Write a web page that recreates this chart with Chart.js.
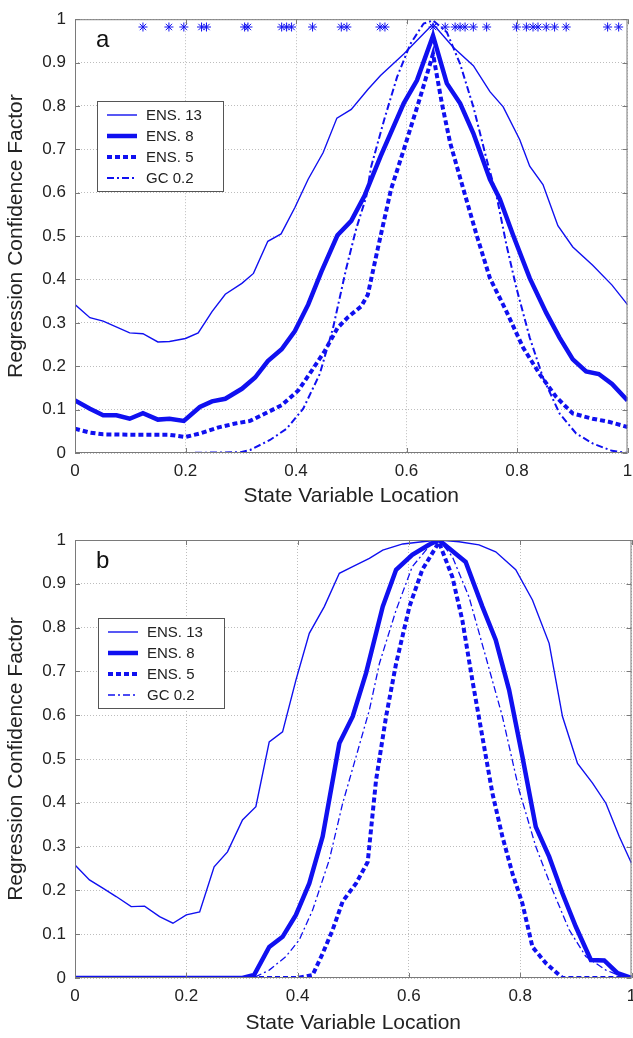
<!DOCTYPE html>
<html>
<head>
<meta charset="utf-8">
<script src="https://cdn.jsdelivr.net/npm/chart.js@4"></script>
<style>
  body { margin: 0; background: #fff; }
  canvas { position: absolute; left: 0; }
  #chartA { top: 0; }
  #chartB { top: 520px; }
</style>
</head>
<body>
<canvas id="chartA" width="633" height="520"></canvas>
<canvas id="chartB" width="633" height="518"></canvas>
<script>
const seriesLabels = ["ENS. 13", "ENS. 8", "ENS. 5", "GC 0.2"];
const xTickLabels = ["0", "0.2", "0.4", "0.6", "0.8", "1"];
const yTickLabels = ["0", "0.1", "0.2", "0.3", "0.4", "0.5", "0.6", "0.7", "0.8", "0.9", "1"];

// panel a
const a13X = [0, 0.027, 0.051, 0.099, 0.123, 0.15, 0.171, 0.2, 0.223, 0.248, 0.272, 0.302, 0.323, 0.349, 0.373, 0.398, 0.422, 0.449, 0.474, 0.5, 0.53, 0.553, 0.595, 0.648, 0.685, 0.721, 0.751, 0.775, 0.805, 0.823, 0.847, 0.874, 0.901, 0.937, 0.972, 1];
const a13Y = [0.342, 0.312, 0.304, 0.277, 0.275, 0.256, 0.257, 0.264, 0.277, 0.326, 0.366, 0.391, 0.414, 0.488, 0.505, 0.566, 0.631, 0.692, 0.772, 0.792, 0.838, 0.87, 0.92, 0.989, 0.935, 0.893, 0.833, 0.798, 0.722, 0.661, 0.619, 0.524, 0.475, 0.433, 0.387, 0.342];
const a8X = [0, 0.027, 0.051, 0.075, 0.099, 0.123, 0.15, 0.171, 0.197, 0.226, 0.248, 0.272, 0.302, 0.326, 0.349, 0.374, 0.398, 0.422, 0.446, 0.475, 0.5, 0.524, 0.553, 0.595, 0.619, 0.648, 0.673, 0.697, 0.721, 0.751, 0.769, 0.793, 0.823, 0.853, 0.877, 0.901, 0.925, 0.948, 0.972, 1];
const a8Y = [0.121, 0.102, 0.087, 0.087, 0.079, 0.092, 0.077, 0.079, 0.074, 0.106, 0.119, 0.125, 0.148, 0.174, 0.212, 0.239, 0.281, 0.342, 0.418, 0.502, 0.535, 0.593, 0.684, 0.806, 0.859, 0.962, 0.852, 0.806, 0.737, 0.631, 0.585, 0.502, 0.403, 0.323, 0.266, 0.216, 0.188, 0.182, 0.159, 0.121];
const a5X = [0, 0.027, 0.051, 0.111, 0.171, 0.2, 0.229, 0.26, 0.29, 0.317, 0.344, 0.374, 0.404, 0.428, 0.452, 0.475, 0.494, 0.518, 0.53, 0.548, 0.572, 0.595, 0.625, 0.648, 0.664, 0.679, 0.703, 0.727, 0.751, 0.781, 0.811, 0.841, 0.871, 0.901, 0.937, 0.966, 1];
const a5Y = [0.056, 0.047, 0.043, 0.042, 0.042, 0.037, 0.046, 0.059, 0.068, 0.074, 0.091, 0.11, 0.144, 0.189, 0.235, 0.288, 0.313, 0.338, 0.365, 0.471, 0.608, 0.699, 0.821, 0.92, 0.806, 0.715, 0.608, 0.502, 0.403, 0.326, 0.243, 0.182, 0.129, 0.091, 0.079, 0.072, 0.06];
const aGcX = [0, 0.1, 0.2, 0.3, 0.317, 0.353, 0.383, 0.413, 0.443, 0.467, 0.491, 0.509, 0.527, 0.536, 0.56, 0.583, 0.607, 0.631, 0.648, 0.673, 0.697, 0.721, 0.745, 0.763, 0.781, 0.799, 0.823, 0.847, 0.877, 0.907, 0.937, 0.972, 1];
const aGcY = [0, 0, 0, 0.002, 0.007, 0.03, 0.056, 0.102, 0.182, 0.288, 0.426, 0.517, 0.59, 0.66, 0.77, 0.867, 0.943, 0.99, 0.997, 0.97, 0.897, 0.798, 0.677, 0.593, 0.479, 0.38, 0.266, 0.174, 0.091, 0.045, 0.022, 0.005, 0];
const starX = [0.123, 0.17, 0.197, 0.229, 0.238, 0.307, 0.313, 0.374, 0.383, 0.392, 0.43, 0.482, 0.492, 0.552, 0.561, 0.648, 0.67, 0.688, 0.697, 0.706, 0.721, 0.745, 0.799, 0.817, 0.829, 0.838, 0.853, 0.868, 0.889, 0.964, 0.984];
const starY = 0.982;

// panel b
const b13X = [0, 0.026, 0.05, 0.074, 0.101, 0.125, 0.152, 0.176, 0.2, 0.224, 0.25, 0.274, 0.301, 0.325, 0.349, 0.373, 0.397, 0.421, 0.448, 0.475, 0.499, 0.529, 0.553, 0.589, 0.624, 0.654, 0.69, 0.726, 0.756, 0.792, 0.822, 0.852, 0.876, 0.903, 0.93, 0.954, 0.978, 1];
const b13Y = [0.258, 0.224, 0.205, 0.186, 0.163, 0.164, 0.14, 0.125, 0.144, 0.151, 0.254, 0.288, 0.361, 0.391, 0.539, 0.562, 0.68, 0.787, 0.848, 0.924, 0.939, 0.958, 0.977, 0.991, 0.996, 1, 0.996, 0.989, 0.973, 0.932, 0.863, 0.764, 0.597, 0.49, 0.445, 0.399, 0.323, 0.262];
const b8X = [0, 0.1, 0.2, 0.301, 0.322, 0.349, 0.373, 0.397, 0.421, 0.445, 0.475, 0.499, 0.523, 0.553, 0.577, 0.606, 0.636, 0.654, 0.672, 0.702, 0.732, 0.756, 0.78, 0.804, 0.828, 0.852, 0.876, 0.9, 0.927, 0.951, 0.975, 1];
const b8Y = [0, 0, 0, 0, 0.007, 0.071, 0.094, 0.144, 0.216, 0.323, 0.536, 0.597, 0.696, 0.848, 0.932, 0.966, 0.989, 1, 0.981, 0.95, 0.848, 0.772, 0.658, 0.505, 0.345, 0.277, 0.193, 0.117, 0.041, 0.04, 0.011, 0];
const b5X = [0, 0.1, 0.2, 0.3, 0.4, 0.427, 0.445, 0.463, 0.481, 0.505, 0.526, 0.541, 0.559, 0.577, 0.601, 0.624, 0.654, 0.678, 0.696, 0.714, 0.732, 0.75, 0.768, 0.786, 0.804, 0.822, 0.846, 0.876, 0.9, 1];
const b5Y = [0, 0, 0, 0, 0, 0.007, 0.056, 0.11, 0.175, 0.216, 0.265, 0.452, 0.597, 0.718, 0.848, 0.932, 0.995, 0.916, 0.817, 0.68, 0.551, 0.422, 0.323, 0.239, 0.17, 0.071, 0.034, 0, 0, 0];
const bGcX = [0, 0.1, 0.2, 0.3, 0.325, 0.349, 0.379, 0.403, 0.427, 0.457, 0.481, 0.505, 0.529, 0.547, 0.577, 0.606, 0.636, 0.654, 0.678, 0.708, 0.738, 0.768, 0.798, 0.828, 0.858, 0.888, 0.918, 0.954, 0.984, 1];
const bGcY = [0, 0, 0, 0, 0.003, 0.018, 0.049, 0.087, 0.155, 0.27, 0.399, 0.505, 0.612, 0.718, 0.84, 0.939, 0.985, 1, 0.962, 0.87, 0.734, 0.597, 0.429, 0.3, 0.201, 0.11, 0.049, 0.018, 0.003, 0];

const blue = "#1010f0";
const font = "'Liberation Sans', Arial, sans-serif";

function pts(xs, ys) {
  return xs.map((x, i) => ({ x: x, y: ys[i] }));
}

function lines(s13, s8, s5, sGc, gcWidth) {
  return [
    { label: seriesLabels[0], data: s13, borderColor: blue, borderWidth: 1.4 },
    { label: seriesLabels[1], data: s8, borderColor: blue, borderWidth: 4.5 },
    { label: seriesLabels[2], data: s5, borderColor: blue, borderWidth: 4, borderDash: [5, 3] },
    { label: seriesLabels[3], data: sGc, borderColor: blue, borderWidth: gcWidth, borderDash: [7, 3, 2, 3] },
  ].map(d => Object.assign(d, { pointRadius: 0, tension: 0, fill: false }));
}

// plot frame and small inward ticks
const frame = {
  id: "frame",
  afterDraw(chart) {
    const { ctx, chartArea: a, scales } = chart;
    ctx.save();
    ctx.strokeStyle = "#7a7a7a";
    ctx.lineWidth = 1;
    ctx.strokeRect(a.left + 0.5, a.top + 0.5, a.right - a.left - 1, a.bottom - a.top - 1);
    scales.y.ticks.forEach(t => {
      const y = Math.round(scales.y.getPixelForValue(t.value)) + 0.5;
      ctx.beginPath();
      ctx.moveTo(a.left, y); ctx.lineTo(a.left + 5, y);
      ctx.moveTo(a.right, y); ctx.lineTo(a.right - 5, y);
      ctx.stroke();
    });
    scales.x.ticks.forEach(t => {
      const x = Math.round(scales.x.getPixelForValue(t.value)) + 0.5;
      ctx.beginPath();
      ctx.moveTo(x, a.bottom); ctx.lineTo(x, a.bottom - 5);
      ctx.moveTo(x, a.top); ctx.lineTo(x, a.top + 5);
      ctx.stroke();
    });
    ctx.restore();
  }
};

// legend box inside plot + panel letter
const boxLegend = {
  id: "boxLegend",
  afterDraw(chart, args, opts) {
    const { ctx, chartArea: a } = chart;
    const x0 = Math.round(a.left + opts.dx), y0 = Math.round(a.top + opts.dy);
    ctx.save();
    ctx.font = "24px " + font;
    ctx.fillStyle = "#111";
    ctx.textBaseline = "alphabetic";
    ctx.fillText(opts.letter, a.left + 21, a.top + 28);

    ctx.fillStyle = "#fff";
    ctx.fillRect(x0, y0, 126, 90);
    ctx.strokeStyle = "#555";
    ctx.lineWidth = 1;
    ctx.strokeRect(x0 + 0.5, y0 + 0.5, 126, 90);
    ctx.font = "15px " + font;
    ctx.textBaseline = "middle";
    chart.data.datasets.forEach(ds => {
      const i = seriesLabels.indexOf(ds.label);
      if (i < 0) return;
      const y = y0 + 14 + i * 21;
      ctx.strokeStyle = ds.borderColor;
      ctx.lineWidth = ds.borderWidth;
      ctx.setLineDash(ds.borderDash || []);
      ctx.beginPath();
      ctx.moveTo(x0 + 10, y); ctx.lineTo(x0 + 40, y);
      ctx.stroke();
      ctx.setLineDash([]);
      ctx.fillStyle = "#222";
      ctx.fillText(ds.label, x0 + 49, y + 1);
    });
    ctx.restore();
  }
};

function options(letter, legendDx, legendDy, pad, xHeight) {
  return {
    responsive: false,
    animation: false,
    devicePixelRatio: 1,
    layout: { padding: pad },
    plugins: {
      legend: { display: false },
      tooltip: { enabled: false },
      boxLegend: { letter: letter, dx: legendDx, dy: legendDy },
    },
    scales: {
      x: {
        type: "linear", min: 0, max: 1,
        afterFit(s) { s.height = xHeight; s.paddingLeft = 0; s.paddingRight = 0; },
        ticks: { stepSize: 0.2, maxRotation: 0, padding: 8, color: "#222",
          font: { family: font, size: 17 }, callback: (v, i) => xTickLabels[i] },
        grid: { color: "#bdbdbd", drawTicks: false },
        border: { display: false, dash: [1, 2] },
        title: { display: true, text: "State Variable Location", color: "#222",
          font: { family: font, size: 21 }, padding: { top: 0, bottom: 0 } },
      },
      y: {
        min: 0, max: 1,
        afterFit(s) { s.width = 75; },
        ticks: { stepSize: 0.1, padding: 9, color: "#222",
          font: { family: font, size: 17 }, callback: (v, i) => yTickLabels[i] },
        grid: { color: "#bdbdbd", drawTicks: false },
        border: { display: false, dash: [1, 2] },
        title: { display: true, text: "Regression Confidence Factor", color: "#222",
          font: { family: font, size: 21 }, padding: { top: 4, bottom: 0 } },
      },
    },
  };
}

const dataA = lines(pts(a13X, a13Y), pts(a8X, a8Y), pts(a5X, a5Y), pts(aGcX, aGcY), 2);
dataA.push({
  label: "obs",
  data: starX.map(x => ({ x: x, y: starY })),
  showLine: false,
  pointStyle: "star",
  pointRadius: 4.5,
  borderColor: blue,
  backgroundColor: blue,
  borderWidth: 1,
});

new Chart(document.getElementById("chartA"), {
  type: "line",
  data: { datasets: dataA },
  options: options("a", 22, 82, { top: 15, right: 2, bottom: 11, left: 0 }, 56),
  plugins: [frame, boxLegend],
});

new Chart(document.getElementById("chartB"), {
  type: "line",
  data: { datasets: lines(pts(b13X, b13Y), pts(b8X, b8Y), pts(b5X, b5Y), pts(bGcX, bGcY), 1.3) },
  options: options("b", 23, 78, { top: 20, right: 1.5, bottom: 2, left: 0 }, 58),
  plugins: [frame, boxLegend],
});
</script>
</body>
</html>
